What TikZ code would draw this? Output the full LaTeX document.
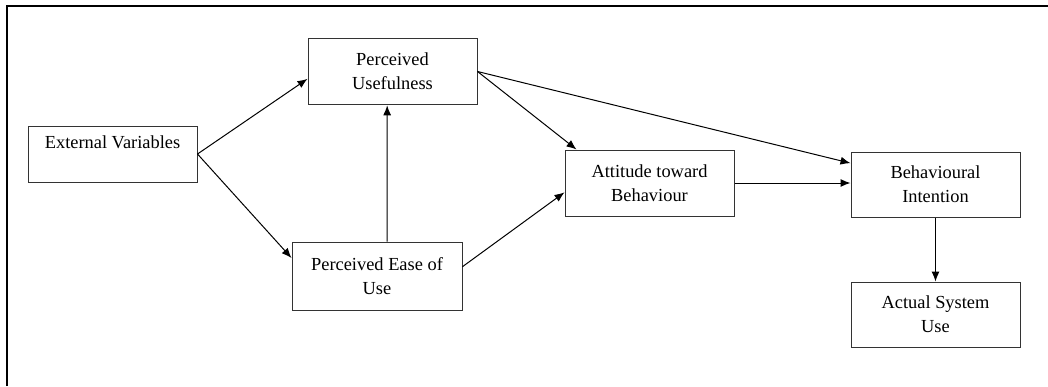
\documentclass[tikz,border=0pt]{standalone}
\usepackage{fontspec}
\setmainfont{Liberation Serif}
\usetikzlibrary{arrows.meta}
\tikzset{
    box/.style={draw=black!80,line width=.75pt,minimum width=126.75pt,inner sep=0pt,align=center,font=\fontsize{13.8}{18}\selectfont},
    link/.style={->,line width=.75pt}
}
\begin{document}
\begin{tikzpicture}[>={Latex[length=7.5pt,width=6pt]},x=.75pt,y=-.75pt]
        \useasboundingbox (0,0) rectangle (1048,386);
        \draw[line width=1.5pt] (7,386)--(7,6)--(1048,6);
        \node[box,minimum height=42pt] (ext) at (112.5,154){External Variables\\\mbox{}};
        \node[box,minimum height=50pt] (use) at (392.5,71.5){Perceived\\Usefulness};
        \node[box,minimum height=51pt,minimum width=127.5pt] (ease) at (377,276){Perceived Ease of\\Use};
        \node[box,minimum height=49.5pt] (att) at (649.5,183){Attitude toward\\Behaviour};
        \node[box,minimum height=48.75pt] (int) at (935.5,184.5){Behavioural\\Intention};
        \node[box,minimum height=48.75pt] (act) at (935.5,314.5){Actual System\\Use};
        \draw[link] (ext.east)--([yshift=-5.5pt]use.west);
        \draw[link] (ext.east)--([yshift=13.5pt]ease.west);
        \draw[link] ([xshift=7.5pt]ease.north)--([xshift=-4pt]use.south);
        \draw[link] (use.east)--([xshift=9pt]att.north west);
        \draw[link] (use.east)--([yshift=16pt]int.west);
        \draw[link] ([yshift=7pt]ease.east)--([yshift=-7pt]att.west);
        \draw[link] (att.east)--(att.east-|int.west);
        \draw[link] (int.south)--(act.north);
    \end{tikzpicture}
\end{document}
